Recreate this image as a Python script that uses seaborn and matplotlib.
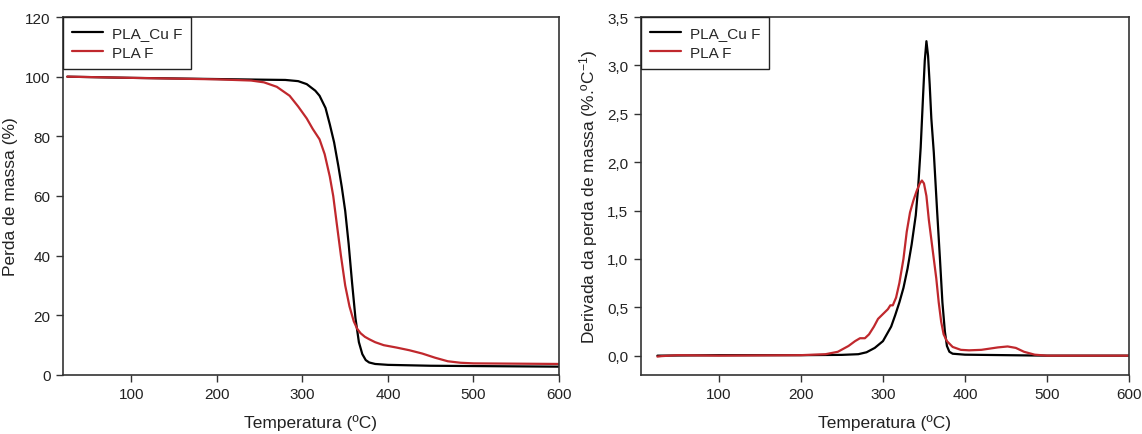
import numpy as np
import pandas as pd
import matplotlib
matplotlib.use("Agg")
import matplotlib.pyplot as plt
import seaborn as sns

# ---------------- data ----------------
series_names = ["PLA_Cu F", "PLA F"]

# TGA (mass loss %) vs temperature
tga_cu_T = [25, 100, 200, 250, 280, 295, 305, 315, 320, 327, 332, 337, 342, 346, 350,
            354, 358, 362, 366, 370, 374, 378, 385, 400, 450, 500, 550, 600]
tga_cu_m = [100, 99.6, 99.2, 99.0, 98.9, 98.5, 97.5, 95.3, 93.6, 89.5, 84, 78, 70, 63, 55,
            44, 31, 19, 11, 7, 5, 4.2, 3.7, 3.4, 3.1, 3.0, 2.9, 2.8]

tga_f_T = [25, 100, 200, 240, 255, 270, 285, 295, 305, 312, 320, 326, 332, 336, 340, 345,
           350, 355, 360, 364, 368, 373, 378, 385, 395, 410, 425, 440, 455, 470, 485, 500, 550, 600]
tga_f_m = [100, 99.6, 99.1, 98.7, 98.1, 96.6, 93.6, 90, 86, 82.5, 79, 74, 66.5, 60, 51, 40,
           30, 23, 18, 15.5, 14, 12.8, 12, 11, 10, 9.2, 8.3, 7.2, 5.8, 4.6, 4.1, 3.9, 3.8, 3.7]

# DTG (derivative of mass loss) vs temperature
dtg_cu_T = [25, 100, 200, 250, 270, 280, 290, 300, 310, 315, 320, 325, 330, 335, 340, 343,
            346, 349, 351, 353, 355, 357, 359, 362, 366, 369.5, 372.5, 375.5, 378, 381, 385,
            400, 450, 500, 600]
dtg_cu_v = [0.0, 0.005, 0.005, 0.008, 0.015, 0.035, 0.08, 0.15, 0.3, 0.42, 0.55, 0.7, 0.9,
            1.15, 1.45, 1.75, 2.15, 2.7, 3.05, 3.25, 3.1, 2.8, 2.45, 2.1, 1.5, 1.0, 0.55,
            0.25, 0.1, 0.04, 0.02, 0.01, 0.005, 0.0, 0.0]

dtg_f_T = [25, 30, 50, 100, 200, 230, 245, 258, 266, 272, 278, 283, 289, 294, 300, 306, 309,
           312, 316, 320, 325, 329, 333, 337, 341, 345, 347.5, 350, 353, 356, 359, 362, 365,
           368, 371, 374, 378, 385, 395, 405, 420, 440, 452, 462, 472, 485, 500, 600]
dtg_f_v = [-0.01, -0.005, 0.005, 0.0, 0.005, 0.015, 0.04, 0.1, 0.15, 0.18, 0.18, 0.22, 0.3,
           0.38, 0.43, 0.48, 0.52, 0.52, 0.6, 0.75, 1.0, 1.28, 1.48, 1.6, 1.7, 1.78, 1.81,
           1.78, 1.65, 1.4, 1.2, 1.0, 0.8, 0.55, 0.35, 0.22, 0.15, 0.09, 0.06, 0.055, 0.06,
           0.085, 0.095, 0.08, 0.04, 0.01, 0.0, 0.0]

left_xticks = [100, 200, 300, 400, 500, 600]
left_yticks = [0, 20, 40, 60, 80, 100, 120]
right_yticks = [0.0, 0.5, 1.0, 1.5, 2.0, 2.5, 3.0, 3.5]

xlabel = "Temperatura (ºC)"
ylabel_left = "Perda de massa (%)"
ylabel_right = "Derivada da perda de massa (%.ºC$^{-1}$)"

# ---------------- style ----------------
sns.set_theme(style="white")
plt.rcParams["font.family"] = ["Liberation Sans", "DejaVu Sans"]
plt.rcParams["mathtext.fontset"] = "custom"
plt.rcParams["mathtext.rm"] = "Liberation Sans"
plt.rcParams["mathtext.it"] = "Liberation Sans"
plt.rcParams["mathtext.default"] = "regular"

colors = {"PLA_Cu F": "#000000", "PLA F": "#c0282d"}
spine_col = "#333333"
text_col = "#222222"

W, H = 1142, 435
fig = plt.figure(figsize=(W / 100, H / 100), dpi=100)
ax1 = fig.add_axes([63 / W, (H - 376) / H, (559 - 63) / W, (376 - 18) / H])
ax2 = fig.add_axes([641 / W, (H - 376) / H, (1129 - 641) / W, (376 - 18) / H])

tga = pd.concat([
    pd.DataFrame({"T": tga_cu_T, "v": tga_cu_m, "s": series_names[0]}),
    pd.DataFrame({"T": tga_f_T, "v": tga_f_m, "s": series_names[1]}),
])
dtg = pd.concat([
    pd.DataFrame({"T": dtg_cu_T, "v": dtg_cu_v, "s": series_names[0]}),
    pd.DataFrame({"T": dtg_f_T, "v": dtg_f_v, "s": series_names[1]}),
])

for ax, df in [(ax1, tga), (ax2, dtg)]:
    sns.lineplot(data=df, x="T", y="v", hue="s", hue_order=series_names,
                 palette=colors, estimator=None, sort=False, linewidth=1.6, ax=ax)
    for sp in ax.spines.values():
        sp.set_visible(True)
        sp.set_color(spine_col)
        sp.set_linewidth(1.2)
    ax.tick_params(axis="both", which="both", direction="out", length=5, width=1,
                   color=spine_col, labelsize=11, labelcolor=text_col,
                   bottom=True, left=True, top=False, right=False, pad=4)
    ax.set_xlabel(xlabel, fontsize=12.5, labelpad=9, color=text_col)
    ax.set_xticks(left_xticks)
    leg = ax.legend(loc="upper left", borderaxespad=0, fancybox=False, framealpha=1,
                    edgecolor=text_col, fontsize=11, handlelength=2.0, borderpad=0.6,
                    labelspacing=0.35, handletextpad=0.6)
    leg.get_frame().set_linewidth(1.0)

ax1.set_xlim(20, 600)
ax1.set_ylim(0, 120)
ax1.set_yticks(left_yticks)
ax1.set_ylabel(ylabel_left, fontsize=12.5, labelpad=5, color=text_col)

ax2.set_xlim(5, 600)
ax2.set_ylim(-0.2, 3.5)
ax2.set_yticks(right_yticks)
ax2.set_yticklabels([f"{v:.1f}".replace(".", ",") for v in right_yticks])
ax2.set_ylabel(ylabel_right, fontsize=12.5, labelpad=5, color=text_col)

fig.savefig("out.png", dpi=100, facecolor="white")
